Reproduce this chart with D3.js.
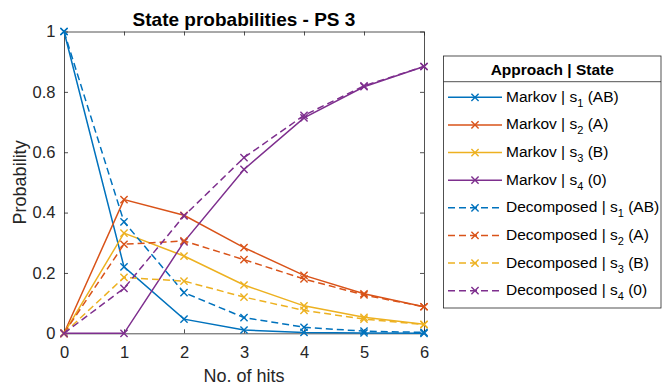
<!DOCTYPE html>
<html><head><meta charset="utf-8">
<script src="https://cdn.jsdelivr.net/npm/d3@7"></script>
<style>body{margin:0;background:#fff;font-family:"Liberation Sans",Arial,Helvetica,sans-serif}</style>
</head><body><svg id="c" width="662" height="388"></svg>
<script>
const hits = [0,1,2,3,4,5,6];
const markovS1 = [1, 0.22, 0.047, 0.011, 0.003, 0.001, 0.0];
const markovS2 = [0, 0.443, 0.391, 0.284, 0.192, 0.131, 0.088];
const markovS3 = [0, 0.332, 0.256, 0.16, 0.091, 0.053, 0.03];
const markovS4 = [0, 0, 0.303, 0.543, 0.714, 0.817, 0.884];
const decompS1 = [1, 0.369, 0.135, 0.052, 0.02, 0.007, 0.003];
const decompS2 = [0, 0.295, 0.306, 0.244, 0.18, 0.127, 0.088];
const decompS3 = [0, 0.185, 0.173, 0.12, 0.076, 0.047, 0.029];
const decompS4 = [0, 0.149, 0.389, 0.582, 0.722, 0.82, 0.884];
const yTicks = [0, 0.2, 0.4, 0.6, 0.8, 1];
const colors = ["#0072BD", "#D95319", "#EDB120", "#7E2F8E"];
const series = [
  {approach:"Markov", state:"1", tag:"(AB)", values:markovS1, c:0, dash:false},
  {approach:"Markov", state:"2", tag:"(A)", values:markovS2, c:1, dash:false},
  {approach:"Markov", state:"3", tag:"(B)", values:markovS3, c:2, dash:false},
  {approach:"Markov", state:"4", tag:"(0)", values:markovS4, c:3, dash:false},
  {approach:"Decomposed", state:"1", tag:"(AB)", values:decompS1, c:0, dash:true},
  {approach:"Decomposed", state:"2", tag:"(A)", values:decompS2, c:1, dash:true},
  {approach:"Decomposed", state:"3", tag:"(B)", values:decompS3, c:2, dash:true},
  {approach:"Decomposed", state:"4", tag:"(0)", values:decompS4, c:3, dash:true},
];

const FONT = "'Liberation Sans', Arial, Helvetica, sans-serif";
const svg = d3.select("#c").attr("font-family", FONT);
const L = 64, R = 424, T = 31.5, B = 333.3;
const x = d3.scaleLinear().domain([0,6]).range([L,R]);
const y = d3.scaleLinear().domain([0,1]).range([B,T]);
const axCol = "#262626";

svg.append("defs").append("clipPath").attr("id","clip").append("rect")
  .attr("x",L-6).attr("y",T-6).attr("width",R-L+12).attr("height",B-T+12);

const tl = 4;
const gx = svg.append("g").attr("transform",`translate(0,${B})`)
  .call(d3.axisBottom(x).tickValues(hits).tickFormat(d3.format("d")).tickSizeInner(-tl).tickSizeOuter(0).tickPadding(12.5));
const gxt = svg.append("g").attr("transform",`translate(0,${T})`)
  .call(d3.axisTop(x).tickValues(hits).tickFormat("").tickSizeInner(-tl).tickSizeOuter(0));
const gy = svg.append("g").attr("transform",`translate(${L},0)`)
  .call(d3.axisLeft(y).tickValues(yTicks).tickFormat(d=>d3.format("~g")(d)).tickSizeInner(-tl).tickSizeOuter(0).tickPadding(8.5));
const gyr = svg.append("g").attr("transform",`translate(${R},0)`)
  .call(d3.axisRight(y).tickValues(yTicks).tickFormat("").tickSizeInner(-tl).tickSizeOuter(0));
[gx,gxt,gy,gyr].forEach(g=>{
  g.select(".domain").attr("stroke",axCol).attr("stroke-width",0.8);
  g.selectAll(".tick line").attr("stroke",axCol).attr("stroke-width",0.8);
  g.selectAll("text").attr("fill",axCol).attr("font-size",16.5).attr("font-family",FONT);
});

const line = d3.line().x((d,i)=>x(hits[i])).y(d=>y(d));
const plot = svg.append("g").attr("clip-path","url(#clip)");
const ms = 3.6;
function xMarker(g, cx, cy, col){
  g.append("path").attr("d",`M${cx-ms},${cy-ms}L${cx+ms},${cy+ms}M${cx-ms},${cy+ms}L${cx+ms},${cy-ms}`)
   .attr("stroke",col).attr("stroke-width",1.4).attr("fill","none");
}
series.forEach(s=>{
  const col = colors[s.c];
  plot.append("path").datum(s.values).attr("d",line).attr("fill","none")
    .attr("stroke",col).attr("stroke-width",1.5)
    .attr("stroke-dasharray", s.dash ? "7,4" : null);
  s.values.forEach((v,i)=>xMarker(plot, x(hits[i]), y(v), col));
});

svg.append("text").attr("x",(L+R)/2).attr("y",26).attr("text-anchor","middle")
  .attr("font-weight","bold").attr("font-size",19).attr("fill","#000").text("State probabilities - PS 3");
svg.append("text").attr("x",(L+R)/2).attr("y",382).attr("text-anchor","middle")
  .attr("font-size",18).attr("fill",axCol).text("No. of hits");
svg.append("text").attr("transform",`translate(26,${(T+B)/2}) rotate(-90)`).attr("text-anchor","middle")
  .attr("font-size",18).attr("fill",axCol).text("Probability");

const lg = svg.append("g");
const lx0 = 443.5, ly0 = 56, lw = 217.5, lh = 252;
lg.append("rect").attr("x",lx0).attr("y",ly0).attr("width",lw).attr("height",lh)
  .attr("fill","#fff").attr("stroke",axCol).attr("stroke-width",0.8);
lg.append("line").attr("x1",lx0).attr("x2",lx0+lw).attr("y1",81.7).attr("y2",81.7)
  .attr("stroke",axCol).attr("stroke-width",0.8);
lg.append("text").attr("x",lx0+lw/2).attr("y",75).attr("text-anchor","middle")
  .attr("font-weight","bold").attr("font-size",15.5).attr("fill","#000").text("Approach | State");
const ly = d3.scalePoint().domain(series.map((s,i)=>i)).range([97.3,290.7]);
series.forEach((s,i)=>{
  const col = colors[s.c], yy = ly(i);
  lg.append("line").attr("x1",448).attr("x2",502).attr("y1",yy).attr("y2",yy)
    .attr("stroke",col).attr("stroke-width",1.5).attr("stroke-dasharray", s.dash ? "7,4" : null);
  xMarker(lg, 475, yy, col);
  const t = lg.append("text").attr("x",506).attr("y",yy+4.5).attr("font-size",15.5).attr("fill","#000");
  t.append("tspan").text(`${s.approach} | s`);
  t.append("tspan").attr("font-size",11).attr("dy",5).text(s.state);
  t.append("tspan").attr("dy",-5).text(` ${s.tag}`);
});
</script></body></html>
